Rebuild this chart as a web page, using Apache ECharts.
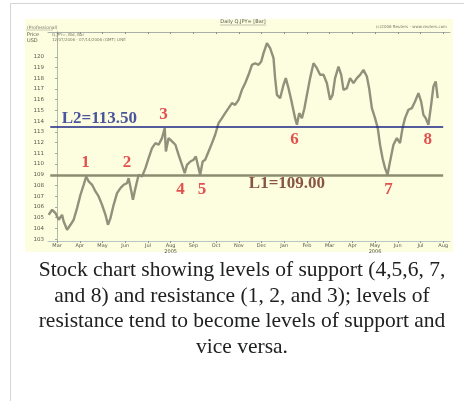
<!DOCTYPE html>
<html><head><meta charset="utf-8">
<script src="https://cdn.jsdelivr.net/npm/echarts@6/dist/echarts.min.js"></script>
<style>html,body{margin:0;padding:0;background:#fff;}#c{width:464px;height:401px;}</style>
</head><body><div id="c"></div>
<script>
// x values: months since 1 March 2005 (0 = Mar 2005)
const monthTicks = [0,1,2,3,4,5,6,7,8,9,10,11,12,13,14,15,16,17];
const monthLabels = ['Mar','Apr','May','Jun','Jul','Aug\n2005','Sep','Oct','Nov','Dec','Jan','Feb','Mar','Apr','May\n2006','Jun','Jul','Aug'];
const yTicks = [103,104,105,106,107,108,109,110,111,112,113,114,115,116,117,118,119,120];

const t = [-0.37,-0.22,-0.07,0.07,0.22,0.29,0.44,0.59,0.73,0.88,1.03,1.17,1.28,1.39,1.54,1.69,1.83,1.98,2.13,2.24,2.35,2.49,2.64,2.79,2.93,3.08,3.15,3.27,3.34,3.45,3.59,3.74,3.89,4.03,4.18,4.33,4.47,4.62,4.74,4.79,4.91,5.06,5.21,5.35,5.50,5.62,5.72,5.87,6.01,6.11,6.23,6.30,6.41,6.52,6.67,6.82,6.96,7.11,7.26,7.40,7.55,7.70,7.84,7.99,8.14,8.28,8.43,8.58,8.72,8.87,8.99,9.09,9.24,9.38,9.53,9.60,9.68,9.82,9.97,10.07,10.19,10.34,10.48,10.56,10.66,10.78,10.89,11.00,11.14,11.29,11.44,11.58,11.73,11.88,12.02,12.13,12.24,12.39,12.51,12.61,12.76,12.90,13.05,13.20,13.34,13.49,13.64,13.74,13.86,14.00,14.12,14.22,14.33,14.44,14.55,14.66,14.81,14.96,15.10,15.21,15.32,15.47,15.62,15.76,15.91,16.03,16.13,16.23,16.35,16.47,16.57,16.67,16.76];
const close = [105.27,105.74,105.43,104.81,105.27,104.65,103.88,104.34,104.81,105.89,107.14,108.07,108.84,108.38,108.07,107.45,106.98,106.20,105.27,104.34,104.96,106.20,107.29,107.76,108.07,108.22,108.69,107.45,106.67,107.76,109.00,108.84,109.62,110.55,111.48,111.95,111.80,112.42,113.35,111.17,112.42,112.11,111.80,110.86,109.93,109.16,109.93,110.24,110.40,110.71,109.62,109.00,110.24,110.40,111.17,111.95,112.73,113.81,114.28,114.75,115.21,115.68,115.52,115.99,116.92,117.54,118.32,119.25,119.40,119.25,119.56,120.34,121.27,120.80,119.87,118.01,116.45,116.14,117.39,118.01,117.07,115.68,114.28,113.66,114.75,114.28,115.21,116.45,118.01,119.40,118.94,118.32,118.32,117.54,115.99,116.45,118.01,119.09,118.32,116.92,117.07,118.01,117.54,118.01,118.32,118.78,118.16,117.07,115.21,114.28,113.35,111.80,110.55,109.62,109.00,110.24,111.80,112.42,111.95,113.35,114.28,115.06,115.21,115.83,116.61,115.83,114.59,114.28,113.66,115.52,117.23,117.70,116.14];

const levelValues = [109.0, 113.5];
const levelNames = ['L1=109.00', 'L2=113.50'];

const markerNames = ['1','2','3','4','5','6','7','8'];
const markerT = [1.25, 3.08, 4.69, 5.43, 6.38, 10.45, 14.59, 16.32];
const markerPrice = [110.09, 110.09, 114.65, 107.60, 107.60, 112.26, 107.60, 112.26];
const levelLabelT = [10.12, 1.86];
const levelLabelPrice = [108.22, 114.22];

const caption = 'Stock chart showing levels of support (4,5,6, 7,\nand 8) and resistance (1, 2, and 3); levels of\nresistance tend to become levels of support and\nvice versa.';

const chart = echarts.init(document.getElementById('c'), null, {renderer: 'canvas'});
const serif = '"Liberation Serif", "Times New Roman", serif';
const levelColors = ['#8c8c72', '#1c2688'];
const levelLabelColors = ['#6b2a1c', '#1c2a8c'];

const pricePts = t.map((x, i) => [x, close[i]]);
const markerPts = markerNames.map((n, i) => ({name: n, value: [markerT[i], markerPrice[i]]}));
const levelLabelPts = levelNames.map((n, i) => ({name: n, value: [levelLabelT[i], levelLabelPrice[i]],
  label: {color: levelLabelColors[i]}}));

chart.setOption({
  backgroundColor: '#ffffff',
  animation: false,
  grid: {left: 48, right: 14, top: 32, bottom: 160, show: false},
  xAxis: [{
    type: 'value', min: -0.4, max: 17.3, position: 'bottom',
    axisLine: {show: true, lineStyle: {color: '#b4c8c6', width: 1}},
    axisTick: {show: true, customValues: monthTicks, length: 2, lineStyle: {color: '#8a9a98'}},
    axisLabel: {show: true, customValues: monthTicks, formatter: v => monthLabels[Math.round(v)],
      fontFamily: 'DejaVu Sans', fontSize: 5, color: '#55584a', margin: 2, lineHeight: 6},
    splitLine: {show: false}
  }, {
    type: 'value', min: -0.4, max: 17.3, position: 'top',
    axisLine: {show: true, lineStyle: {color: '#a8b0a8', width: 1}},
    axisTick: {show: true, customValues: monthTicks, length: 2, inside: true, lineStyle: {color: '#8a9090'}},
    axisLabel: {show: false}, splitLine: {show: false}
  }],
  yAxis: [{
    type: 'value', min: 102.83, max: 122.31, position: 'left',
    axisLine: {show: true, lineStyle: {color: '#b4cccc', width: 1}},
    axisTick: {show: true, customValues: yTicks, length: 2, lineStyle: {color: '#9aacaa'}},
    axisLabel: {show: true, customValues: yTicks, fontFamily: 'DejaVu Sans', fontSize: 5.5, color: '#55584a', margin: 4},
    splitLine: {show: false}
  }, {
    type: 'value', min: 102.83, max: 122.31, position: 'right',
    axisLine: {show: true, lineStyle: {color: '#b0b8b0', width: 1}},
    axisTick: {show: false}, axisLabel: {show: false}, splitLine: {show: false}
  }],
  graphic: [
    {type: 'rect', z: -100, shape: {x: 10.5, y: 3.5, width: 470, height: 420}, style: {fill: '#ffffff', stroke: '#d4d4d4', lineWidth: 1}},
    {type: 'rect', z: -90, shape: {x: 25, y: 19, width: 428, height: 233}, style: {fill: '#fdfddf'}},
    {type: 'text', z: 10, x: 27, y: 25, style: {text: '(Professional)', fontFamily: 'DejaVu Sans', fontSize: 4.5, fill: '#7a7a6a'}},
    {type: 'line', z: 10, shape: {x1: 26, y1: 30, x2: 53, y2: 30}, style: {stroke: '#b0b0a0', lineWidth: 0.6}},
    {type: 'text', z: 10, x: 27, y: 32, style: {text: 'Price\nUSD', fontFamily: 'DejaVu Sans', fontSize: 5, lineHeight: 5.5, fill: '#55584a'}},
    {type: 'text', z: 10, x: 52, y: 33, style: {text: 'Q.JPY=, Bid, Bar\n12/07/2006 - 07/14/2006 (GMT) LINE', fontFamily: 'DejaVu Sans', fontSize: 4, lineHeight: 4.5, fill: '#7a7a6a'}},
    {type: 'text', z: 10, x: 243, y: 22, style: {text: 'Daily Q.JPY= [Bar]', fontFamily: 'DejaVu Sans', fontSize: 5, fill: '#55584a', textAlign: 'center', textVerticalAlign: 'middle'}},
    {type: 'line', z: 10, shape: {x1: 220, y1: 25, x2: 266, y2: 25}, style: {stroke: '#8a8a7a', lineWidth: 0.5}},
    {type: 'text', z: 10, x: 447, y: 27, style: {text: '(c)2006 Reuters - www.reuters.com', fontFamily: 'DejaVu Sans', fontSize: 4, fill: '#7a7a6a', textAlign: 'right', textVerticalAlign: 'middle'}},
    {type: 'text', z: 10, x: 242, y: 258, style: {text: caption, font: '21.5px ' + serif, lineHeight: 25.5, fill: '#202122', textAlign: 'center', textVerticalAlign: 'top'}}
  ],
  series: [{
    type: 'line', data: pricePts, symbol: 'none', smooth: false,
    lineStyle: {color: '#8f917b', width: 2.4}, z: 3,
    markLine: {
      symbol: 'none', silent: true, label: {show: false},
      data: levelValues.map((v, i) => [
        {coord: [-0.3, v], lineStyle: {color: levelColors[i], width: i === 0 ? 2.6 : 1.6, type: 'solid'}},
        {coord: [17.0, v]}
      ])
    }
  }, {
    type: 'scatter', data: markerPts, symbolSize: 1, itemStyle: {color: 'rgba(0,0,0,0)'}, z: 5,
    label: {show: true, position: 'inside', formatter: p => p.name,
      fontFamily: serif, fontWeight: 'bold', fontSize: 17, color: '#d8262a'}
  }, {
    type: 'scatter', data: levelLabelPts, symbolSize: 1, itemStyle: {color: 'rgba(0,0,0,0)'}, z: 5,
    label: {show: true, position: 'inside', formatter: p => p.name,
      fontFamily: serif, fontWeight: 'bold', fontSize: 17}
  }]
});
</script>
</body></html>
